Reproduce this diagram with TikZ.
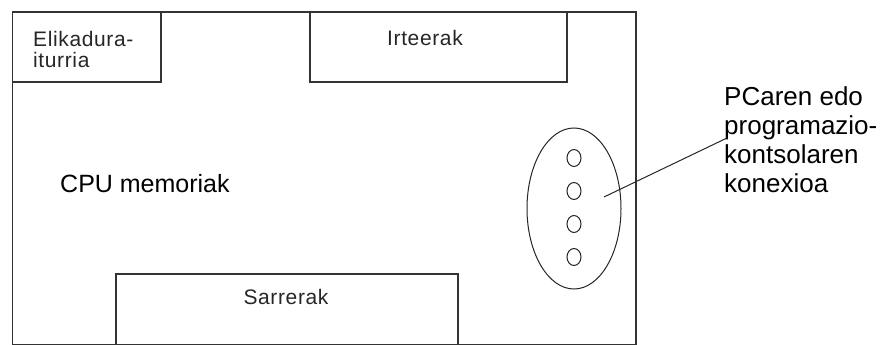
\documentclass[tikz,border=0pt]{standalone}
\usepackage{fontspec}
\setmainfont{Liberation Sans}
\newfontfamily\pixfont[LetterSpace=3]{Liberation Sans}
\begin{document}
\begin{tikzpicture}[x=1pt,y=-1pt,
  part/.style={draw=black!80,line width=1.6pt,inner sep=0pt,anchor=north west},
  thin/.style={draw=black!85,line width=1pt},
  big/.style={inner sep=0pt,font=\fontsize{25}{29}\selectfont,align=left},
  bigr/.style={inner sep=0pt,font=\fontsize{26}{29}\selectfont,align=left},
  small/.style={inner sep=0pt,font=\pixfont\fontsize{21}{21}\selectfont,align=left,text=black!85}]
\useasboundingbox (0,0) rectangle (887,345);
% outer board
\node[part,minimum width=623.5pt,minimum height=332.5pt] (board) at (11.5,11.5) {};
% inner boxes
\node[part,minimum width=148.5pt,minimum height=69.5pt] (elik) at (11.5,11.5) {};
\node[part,minimum width=257pt,minimum height=69.5pt] (irt) at (309,11.5) {};
\node[part,minimum width=342pt,minimum height=71pt] (sarr) at (115,273) {};
% texts (base anchor = baseline of last line)
\node[small,anchor=base west] (elikt) at (33,68) {Elikadura-\\iturria};
\node[small,anchor=base west] (irtt) at (387,46) {Irteerak};
\node[small,anchor=base] (sarrt) at (286,304) {Sarrerak};
\node[big,anchor=base west] (cpu) at (60,192) {CPU memoriak};
\node[bigr,anchor=base west] (pc) at (724,192) {PCaren edo\\programazio-\\kontsolaren\\konexioa};
% connector ellipse and pins
\draw[thin] (574,208.5) ellipse [x radius=47, y radius=80.5];
\foreach \i/\yy in {1/158,2/191,3/224,4/257}{
  \draw[thin] (574,\yy) ellipse [x radius=7, y radius=8.5];
}
% leader line
\coordinate (lstart) at (604,197);
\coordinate (lend) at (727,138);
\draw[thin] (lstart) -- (lend);
\end{tikzpicture}
\end{document}
